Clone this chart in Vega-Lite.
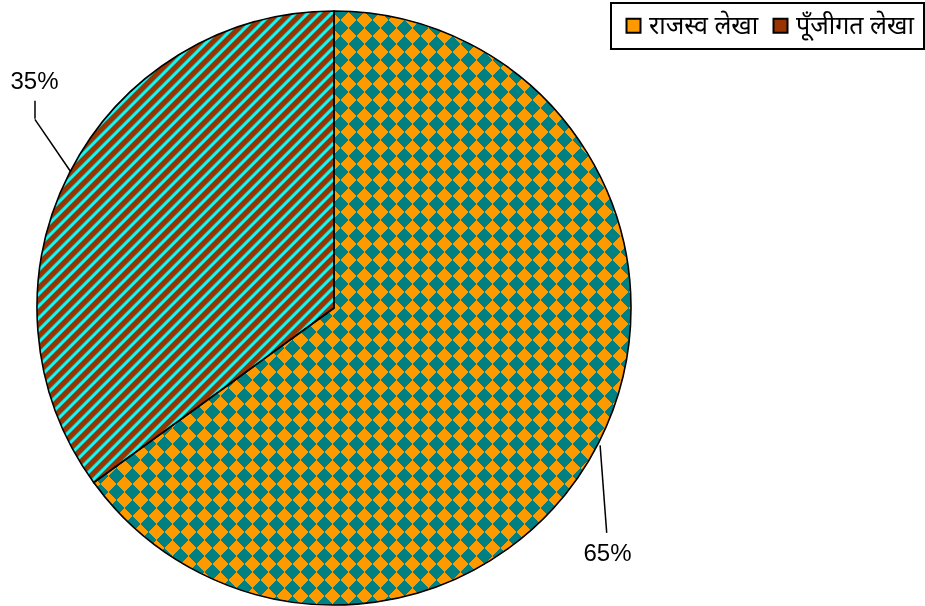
{
"$schema":"https://vega.github.io/schema/vega-lite/v6.json",
"width":668,"height":594,
"autosize":{"type":"none"},
"padding":{"left":0,"top":11,"right":257,"bottom":1},
"background":"white",
"config":{"view":{"stroke":null},"font":"Liberation Sans"},
"data":{"values":[
{"cat":"राजस्व लेखा","value":65,"label":"65%","ord":1},
{"cat":"पूँजीगत लेखा","value":35,"label":"35%","ord":2}
]},
"encoding":{
"theta":{"field":"value","type":"quantitative","stack":true},
"order":{"field":"ord","type":"quantitative"}
},
"layer":[
{"mark":{"type":"arc","outerRadius":297},
 "encoding":{"color":{"field":"cat","type":"nominal",
  "scale":{"domain":["राजस्व लेखा","पूँजीगत लेखा"],"range":["#ff9900","#993300"]},
  "legend":{"orient":"none","legendX":611,"legendY":-8,"direction":"horizontal","title":null,
   "strokeColor":"black","padding":10,"symbolType":"square","symbolSize":196,
   "symbolStrokeColor":"black","symbolStrokeWidth":2,"labelFontSize":25,"labelFont":"Noto Sans",
   "labelColor":"black","columnPadding":9,"labelOffset":3,
   "encode":{"legend":{"update":{"strokeWidth":{"value":2}}}}}}}},
{"mark":{"type":"arc","outerRadius":297},
 "encoding":{"fill":{"condition":{"test":"datum.ord==2","value":{"gradient":"linear","x1":0,"y1":0,"x2":0.7344,"y2":1.1661,"stops":[
{"offset":0,"color":"#930"},{"offset":0.0073,"color":"#930"},{"offset":0.0099,"color":"#0ff"},{"offset":0.0130,"color":"#0ff"},
{"offset":0.0156,"color":"#930"},{"offset":0.0229,"color":"#930"},{"offset":0.0255,"color":"#0ff"},{"offset":0.0286,"color":"#0ff"},
{"offset":0.0313,"color":"#930"},{"offset":0.0386,"color":"#930"},{"offset":0.0412,"color":"#0ff"},{"offset":0.0443,"color":"#0ff"},
{"offset":0.0469,"color":"#930"},{"offset":0.0542,"color":"#930"},{"offset":0.0568,"color":"#0ff"},{"offset":0.0599,"color":"#0ff"},
{"offset":0.0625,"color":"#930"},{"offset":0.0698,"color":"#930"},{"offset":0.0724,"color":"#0ff"},{"offset":0.0755,"color":"#0ff"},
{"offset":0.0781,"color":"#930"},{"offset":0.0854,"color":"#930"},{"offset":0.0880,"color":"#0ff"},{"offset":0.0911,"color":"#0ff"},
{"offset":0.0938,"color":"#930"},{"offset":0.1011,"color":"#930"},{"offset":0.1037,"color":"#0ff"},{"offset":0.1068,"color":"#0ff"},
{"offset":0.1094,"color":"#930"},{"offset":0.1167,"color":"#930"},{"offset":0.1193,"color":"#0ff"},{"offset":0.1224,"color":"#0ff"},
{"offset":0.1250,"color":"#930"},{"offset":0.1323,"color":"#930"},{"offset":0.1349,"color":"#0ff"},{"offset":0.1380,"color":"#0ff"},
{"offset":0.1406,"color":"#930"},{"offset":0.1479,"color":"#930"},{"offset":0.1505,"color":"#0ff"},{"offset":0.1536,"color":"#0ff"},
{"offset":0.1563,"color":"#930"},{"offset":0.1636,"color":"#930"},{"offset":0.1662,"color":"#0ff"},{"offset":0.1693,"color":"#0ff"},
{"offset":0.1719,"color":"#930"},{"offset":0.1792,"color":"#930"},{"offset":0.1818,"color":"#0ff"},{"offset":0.1849,"color":"#0ff"},
{"offset":0.1875,"color":"#930"},{"offset":0.1948,"color":"#930"},{"offset":0.1974,"color":"#0ff"},{"offset":0.2005,"color":"#0ff"},
{"offset":0.2031,"color":"#930"},{"offset":0.2104,"color":"#930"},{"offset":0.2130,"color":"#0ff"},{"offset":0.2161,"color":"#0ff"},
{"offset":0.2188,"color":"#930"},{"offset":0.2261,"color":"#930"},{"offset":0.2287,"color":"#0ff"},{"offset":0.2318,"color":"#0ff"},
{"offset":0.2344,"color":"#930"},{"offset":0.2417,"color":"#930"},{"offset":0.2443,"color":"#0ff"},{"offset":0.2474,"color":"#0ff"},
{"offset":0.2500,"color":"#930"},{"offset":0.2573,"color":"#930"},{"offset":0.2599,"color":"#0ff"},{"offset":0.2630,"color":"#0ff"},
{"offset":0.2656,"color":"#930"},{"offset":0.2729,"color":"#930"},{"offset":0.2755,"color":"#0ff"},{"offset":0.2786,"color":"#0ff"},
{"offset":0.2813,"color":"#930"},{"offset":0.2886,"color":"#930"},{"offset":0.2912,"color":"#0ff"},{"offset":0.2943,"color":"#0ff"},
{"offset":0.2969,"color":"#930"},{"offset":0.3042,"color":"#930"},{"offset":0.3068,"color":"#0ff"},{"offset":0.3099,"color":"#0ff"},
{"offset":0.3125,"color":"#930"},{"offset":0.3198,"color":"#930"},{"offset":0.3224,"color":"#0ff"},{"offset":0.3255,"color":"#0ff"},
{"offset":0.3281,"color":"#930"},{"offset":0.3354,"color":"#930"},{"offset":0.3380,"color":"#0ff"},{"offset":0.3411,"color":"#0ff"},
{"offset":0.3438,"color":"#930"},{"offset":0.3511,"color":"#930"},{"offset":0.3537,"color":"#0ff"},{"offset":0.3568,"color":"#0ff"},
{"offset":0.3594,"color":"#930"},{"offset":0.3667,"color":"#930"},{"offset":0.3693,"color":"#0ff"},{"offset":0.3724,"color":"#0ff"},
{"offset":0.3750,"color":"#930"},{"offset":0.3823,"color":"#930"},{"offset":0.3849,"color":"#0ff"},{"offset":0.3880,"color":"#0ff"},
{"offset":0.3906,"color":"#930"},{"offset":0.3979,"color":"#930"},{"offset":0.4005,"color":"#0ff"},{"offset":0.4036,"color":"#0ff"},
{"offset":0.4063,"color":"#930"},{"offset":0.4136,"color":"#930"},{"offset":0.4162,"color":"#0ff"},{"offset":0.4193,"color":"#0ff"},
{"offset":0.4219,"color":"#930"},{"offset":0.4292,"color":"#930"},{"offset":0.4318,"color":"#0ff"},{"offset":0.4349,"color":"#0ff"},
{"offset":0.4375,"color":"#930"},{"offset":0.4448,"color":"#930"},{"offset":0.4474,"color":"#0ff"},{"offset":0.4505,"color":"#0ff"},
{"offset":0.4531,"color":"#930"},{"offset":0.4604,"color":"#930"},{"offset":0.4630,"color":"#0ff"},{"offset":0.4661,"color":"#0ff"},
{"offset":0.4688,"color":"#930"},{"offset":0.4761,"color":"#930"},{"offset":0.4787,"color":"#0ff"},{"offset":0.4818,"color":"#0ff"},
{"offset":0.4844,"color":"#930"},{"offset":0.4917,"color":"#930"},{"offset":0.4943,"color":"#0ff"},{"offset":0.4974,"color":"#0ff"},
{"offset":0.5000,"color":"#930"},{"offset":0.5073,"color":"#930"},{"offset":0.5099,"color":"#0ff"},{"offset":0.5130,"color":"#0ff"},
{"offset":0.5156,"color":"#930"},{"offset":0.5229,"color":"#930"},{"offset":0.5255,"color":"#0ff"},{"offset":0.5286,"color":"#0ff"},
{"offset":0.5313,"color":"#930"},{"offset":0.5386,"color":"#930"},{"offset":0.5412,"color":"#0ff"},{"offset":0.5443,"color":"#0ff"},
{"offset":0.5469,"color":"#930"},{"offset":0.5542,"color":"#930"},{"offset":0.5568,"color":"#0ff"},{"offset":0.5599,"color":"#0ff"},
{"offset":0.5625,"color":"#930"},{"offset":0.5698,"color":"#930"},{"offset":0.5724,"color":"#0ff"},{"offset":0.5755,"color":"#0ff"},
{"offset":0.5781,"color":"#930"},{"offset":0.5854,"color":"#930"},{"offset":0.5880,"color":"#0ff"},{"offset":0.5911,"color":"#0ff"},
{"offset":0.5938,"color":"#930"},{"offset":0.6011,"color":"#930"},{"offset":0.6037,"color":"#0ff"},{"offset":0.6068,"color":"#0ff"},
{"offset":0.6094,"color":"#930"},{"offset":0.6167,"color":"#930"},{"offset":0.6193,"color":"#0ff"},{"offset":0.6224,"color":"#0ff"},
{"offset":0.6250,"color":"#930"},{"offset":0.6323,"color":"#930"},{"offset":0.6349,"color":"#0ff"},{"offset":0.6380,"color":"#0ff"},
{"offset":0.6406,"color":"#930"},{"offset":0.6479,"color":"#930"},{"offset":0.6505,"color":"#0ff"},{"offset":0.6536,"color":"#0ff"},
{"offset":0.6563,"color":"#930"},{"offset":0.6636,"color":"#930"},{"offset":0.6662,"color":"#0ff"},{"offset":0.6693,"color":"#0ff"},
{"offset":0.6719,"color":"#930"},{"offset":0.6792,"color":"#930"},{"offset":0.6818,"color":"#0ff"},{"offset":0.6849,"color":"#0ff"},
{"offset":0.6875,"color":"#930"},{"offset":0.6948,"color":"#930"},{"offset":0.6974,"color":"#0ff"},{"offset":0.7005,"color":"#0ff"},
{"offset":0.7031,"color":"#930"},{"offset":0.7104,"color":"#930"},{"offset":0.7130,"color":"#0ff"},{"offset":0.7161,"color":"#0ff"},
{"offset":0.7188,"color":"#930"},{"offset":0.7261,"color":"#930"},{"offset":0.7287,"color":"#0ff"},{"offset":0.7318,"color":"#0ff"},
{"offset":0.7344,"color":"#930"},{"offset":0.7417,"color":"#930"},{"offset":0.7443,"color":"#0ff"},{"offset":0.7474,"color":"#0ff"},
{"offset":0.7500,"color":"#930"},{"offset":0.7573,"color":"#930"},{"offset":0.7599,"color":"#0ff"},{"offset":0.7630,"color":"#0ff"},
{"offset":0.7656,"color":"#930"},{"offset":0.7729,"color":"#930"},{"offset":0.7755,"color":"#0ff"},{"offset":0.7786,"color":"#0ff"},
{"offset":0.7813,"color":"#930"},{"offset":0.7886,"color":"#930"},{"offset":0.7912,"color":"#0ff"},{"offset":0.7943,"color":"#0ff"},
{"offset":0.7969,"color":"#930"},{"offset":0.8042,"color":"#930"},{"offset":0.8068,"color":"#0ff"},{"offset":0.8099,"color":"#0ff"},
{"offset":0.8125,"color":"#930"},{"offset":0.8198,"color":"#930"},{"offset":0.8224,"color":"#0ff"},{"offset":0.8255,"color":"#0ff"},
{"offset":0.8281,"color":"#930"},{"offset":0.8354,"color":"#930"},{"offset":0.8380,"color":"#0ff"},{"offset":0.8411,"color":"#0ff"},
{"offset":0.8438,"color":"#930"},{"offset":0.8511,"color":"#930"},{"offset":0.8537,"color":"#0ff"},{"offset":0.8568,"color":"#0ff"},
{"offset":0.8594,"color":"#930"},{"offset":0.8667,"color":"#930"},{"offset":0.8693,"color":"#0ff"},{"offset":0.8724,"color":"#0ff"},
{"offset":0.8750,"color":"#930"},{"offset":0.8823,"color":"#930"},{"offset":0.8849,"color":"#0ff"},{"offset":0.8880,"color":"#0ff"},
{"offset":0.8906,"color":"#930"},{"offset":0.8979,"color":"#930"},{"offset":0.9005,"color":"#0ff"},{"offset":0.9036,"color":"#0ff"},
{"offset":0.9063,"color":"#930"},{"offset":0.9136,"color":"#930"},{"offset":0.9162,"color":"#0ff"},{"offset":0.9193,"color":"#0ff"},
{"offset":0.9219,"color":"#930"},{"offset":0.9292,"color":"#930"},{"offset":0.9318,"color":"#0ff"},{"offset":0.9349,"color":"#0ff"},
{"offset":0.9375,"color":"#930"},{"offset":0.9448,"color":"#930"},{"offset":0.9474,"color":"#0ff"},{"offset":0.9505,"color":"#0ff"},
{"offset":0.9531,"color":"#930"},{"offset":0.9604,"color":"#930"},{"offset":0.9630,"color":"#0ff"},{"offset":0.9661,"color":"#0ff"},
{"offset":0.9688,"color":"#930"},{"offset":0.9761,"color":"#930"},{"offset":0.9787,"color":"#0ff"},{"offset":0.9818,"color":"#0ff"},
{"offset":0.9844,"color":"#930"},{"offset":0.9917,"color":"#930"},{"offset":0.9943,"color":"#0ff"},{"offset":0.9974,"color":"#0ff"},
{"offset":1,"color":"#930"}]}},
 "value":{"gradient":"linear","x1":0,"y1":0,"x2":0.9648,"y2":1.0667,"stops":[
{"offset":0,"color":"#ff1980"},{"offset":0.0139,"color":"#ff1980"},{"offset":0.0139,"color":"#000"},{"offset":0.0278,"color":"#000"},
{"offset":0.0278,"color":"#ff1980"},{"offset":0.0417,"color":"#ff1980"},{"offset":0.0417,"color":"#000"},{"offset":0.0556,"color":"#000"},
{"offset":0.0556,"color":"#ff1980"},{"offset":0.0694,"color":"#ff1980"},{"offset":0.0694,"color":"#000"},{"offset":0.0833,"color":"#000"},
{"offset":0.0833,"color":"#ff1980"},{"offset":0.0972,"color":"#ff1980"},{"offset":0.0972,"color":"#000"},{"offset":0.1111,"color":"#000"},
{"offset":0.1111,"color":"#ff1980"},{"offset":0.125,"color":"#ff1980"},{"offset":0.125,"color":"#000"},{"offset":0.1389,"color":"#000"},
{"offset":0.1389,"color":"#ff1980"},{"offset":0.1528,"color":"#ff1980"},{"offset":0.1528,"color":"#000"},{"offset":0.1667,"color":"#000"},
{"offset":0.1667,"color":"#ff1980"},{"offset":0.1806,"color":"#ff1980"},{"offset":0.1806,"color":"#000"},{"offset":0.1944,"color":"#000"},
{"offset":0.1944,"color":"#ff1980"},{"offset":0.2083,"color":"#ff1980"},{"offset":0.2083,"color":"#000"},{"offset":0.2222,"color":"#000"},
{"offset":0.2222,"color":"#ff1980"},{"offset":0.2361,"color":"#ff1980"},{"offset":0.2361,"color":"#000"},{"offset":0.25,"color":"#000"},
{"offset":0.25,"color":"#ff1980"},{"offset":0.2639,"color":"#ff1980"},{"offset":0.2639,"color":"#000"},{"offset":0.2778,"color":"#000"},
{"offset":0.2778,"color":"#ff1980"},{"offset":0.2917,"color":"#ff1980"},{"offset":0.2917,"color":"#000"},{"offset":0.3056,"color":"#000"},
{"offset":0.3056,"color":"#ff1980"},{"offset":0.3194,"color":"#ff1980"},{"offset":0.3194,"color":"#000"},{"offset":0.3333,"color":"#000"},
{"offset":0.3333,"color":"#ff1980"},{"offset":0.3472,"color":"#ff1980"},{"offset":0.3472,"color":"#000"},{"offset":0.3611,"color":"#000"},
{"offset":0.3611,"color":"#ff1980"},{"offset":0.375,"color":"#ff1980"},{"offset":0.375,"color":"#000"},{"offset":0.3889,"color":"#000"},
{"offset":0.3889,"color":"#ff1980"},{"offset":0.4028,"color":"#ff1980"},{"offset":0.4028,"color":"#000"},{"offset":0.4167,"color":"#000"},
{"offset":0.4167,"color":"#ff1980"},{"offset":0.4306,"color":"#ff1980"},{"offset":0.4306,"color":"#000"},{"offset":0.4444,"color":"#000"},
{"offset":0.4444,"color":"#ff1980"},{"offset":0.4583,"color":"#ff1980"},{"offset":0.4583,"color":"#000"},{"offset":0.4722,"color":"#000"},
{"offset":0.4722,"color":"#ff1980"},{"offset":0.4861,"color":"#ff1980"},{"offset":0.4861,"color":"#000"},{"offset":0.5,"color":"#000"},
{"offset":0.5,"color":"#ff1980"},{"offset":0.5139,"color":"#ff1980"},{"offset":0.5139,"color":"#000"},{"offset":0.5278,"color":"#000"},
{"offset":0.5278,"color":"#ff1980"},{"offset":0.5417,"color":"#ff1980"},{"offset":0.5417,"color":"#000"},{"offset":0.5556,"color":"#000"},
{"offset":0.5556,"color":"#ff1980"},{"offset":0.5694,"color":"#ff1980"},{"offset":0.5694,"color":"#000"},{"offset":0.5833,"color":"#000"},
{"offset":0.5833,"color":"#ff1980"},{"offset":0.5972,"color":"#ff1980"},{"offset":0.5972,"color":"#000"},{"offset":0.6111,"color":"#000"},
{"offset":0.6111,"color":"#ff1980"},{"offset":0.625,"color":"#ff1980"},{"offset":0.625,"color":"#000"},{"offset":0.6389,"color":"#000"},
{"offset":0.6389,"color":"#ff1980"},{"offset":0.6528,"color":"#ff1980"},{"offset":0.6528,"color":"#000"},{"offset":0.6667,"color":"#000"},
{"offset":0.6667,"color":"#ff1980"},{"offset":0.6806,"color":"#ff1980"},{"offset":0.6806,"color":"#000"},{"offset":0.6944,"color":"#000"},
{"offset":0.6944,"color":"#ff1980"},{"offset":0.7083,"color":"#ff1980"},{"offset":0.7083,"color":"#000"},{"offset":0.7222,"color":"#000"},
{"offset":0.7222,"color":"#ff1980"},{"offset":0.7361,"color":"#ff1980"},{"offset":0.7361,"color":"#000"},{"offset":0.75,"color":"#000"},
{"offset":0.75,"color":"#ff1980"},{"offset":0.7639,"color":"#ff1980"},{"offset":0.7639,"color":"#000"},{"offset":0.7778,"color":"#000"},
{"offset":0.7778,"color":"#ff1980"},{"offset":0.7917,"color":"#ff1980"},{"offset":0.7917,"color":"#000"},{"offset":0.8056,"color":"#000"},
{"offset":0.8056,"color":"#ff1980"},{"offset":0.8194,"color":"#ff1980"},{"offset":0.8194,"color":"#000"},{"offset":0.8333,"color":"#000"},
{"offset":0.8333,"color":"#ff1980"},{"offset":0.8472,"color":"#ff1980"},{"offset":0.8472,"color":"#000"},{"offset":0.8611,"color":"#000"},
{"offset":0.8611,"color":"#ff1980"},{"offset":0.875,"color":"#ff1980"},{"offset":0.875,"color":"#000"},{"offset":0.8889,"color":"#000"},
{"offset":0.8889,"color":"#ff1980"},{"offset":0.9028,"color":"#ff1980"},{"offset":0.9028,"color":"#000"},{"offset":0.9167,"color":"#000"},
{"offset":0.9167,"color":"#ff1980"},{"offset":0.9306,"color":"#ff1980"},{"offset":0.9306,"color":"#000"},{"offset":0.9444,"color":"#000"},
{"offset":0.9444,"color":"#ff1980"},{"offset":0.9583,"color":"#ff1980"},{"offset":0.9583,"color":"#000"},{"offset":0.9722,"color":"#000"},
{"offset":0.9722,"color":"#ff1980"},{"offset":0.9861,"color":"#ff1980"},{"offset":0.9861,"color":"#000"},{"offset":1,"color":"#000"}]}}}},
{"mark":{"type":"arc","outerRadius":297,"blend":"difference"},
 "encoding":{"fill":{"condition":{"test":"datum.ord==1","value":{"gradient":"linear","x1":0,"y1":1,"x2":0.9648,"y2":-0.0667,"stops":[
{"offset":0,"color":"#ff1980"},{"offset":0.0139,"color":"#ff1980"},{"offset":0.0139,"color":"#000"},{"offset":0.0278,"color":"#000"},
{"offset":0.0278,"color":"#ff1980"},{"offset":0.0417,"color":"#ff1980"},{"offset":0.0417,"color":"#000"},{"offset":0.0556,"color":"#000"},
{"offset":0.0556,"color":"#ff1980"},{"offset":0.0694,"color":"#ff1980"},{"offset":0.0694,"color":"#000"},{"offset":0.0833,"color":"#000"},
{"offset":0.0833,"color":"#ff1980"},{"offset":0.0972,"color":"#ff1980"},{"offset":0.0972,"color":"#000"},{"offset":0.1111,"color":"#000"},
{"offset":0.1111,"color":"#ff1980"},{"offset":0.125,"color":"#ff1980"},{"offset":0.125,"color":"#000"},{"offset":0.1389,"color":"#000"},
{"offset":0.1389,"color":"#ff1980"},{"offset":0.1528,"color":"#ff1980"},{"offset":0.1528,"color":"#000"},{"offset":0.1667,"color":"#000"},
{"offset":0.1667,"color":"#ff1980"},{"offset":0.1806,"color":"#ff1980"},{"offset":0.1806,"color":"#000"},{"offset":0.1944,"color":"#000"},
{"offset":0.1944,"color":"#ff1980"},{"offset":0.2083,"color":"#ff1980"},{"offset":0.2083,"color":"#000"},{"offset":0.2222,"color":"#000"},
{"offset":0.2222,"color":"#ff1980"},{"offset":0.2361,"color":"#ff1980"},{"offset":0.2361,"color":"#000"},{"offset":0.25,"color":"#000"},
{"offset":0.25,"color":"#ff1980"},{"offset":0.2639,"color":"#ff1980"},{"offset":0.2639,"color":"#000"},{"offset":0.2778,"color":"#000"},
{"offset":0.2778,"color":"#ff1980"},{"offset":0.2917,"color":"#ff1980"},{"offset":0.2917,"color":"#000"},{"offset":0.3056,"color":"#000"},
{"offset":0.3056,"color":"#ff1980"},{"offset":0.3194,"color":"#ff1980"},{"offset":0.3194,"color":"#000"},{"offset":0.3333,"color":"#000"},
{"offset":0.3333,"color":"#ff1980"},{"offset":0.3472,"color":"#ff1980"},{"offset":0.3472,"color":"#000"},{"offset":0.3611,"color":"#000"},
{"offset":0.3611,"color":"#ff1980"},{"offset":0.375,"color":"#ff1980"},{"offset":0.375,"color":"#000"},{"offset":0.3889,"color":"#000"},
{"offset":0.3889,"color":"#ff1980"},{"offset":0.4028,"color":"#ff1980"},{"offset":0.4028,"color":"#000"},{"offset":0.4167,"color":"#000"},
{"offset":0.4167,"color":"#ff1980"},{"offset":0.4306,"color":"#ff1980"},{"offset":0.4306,"color":"#000"},{"offset":0.4444,"color":"#000"},
{"offset":0.4444,"color":"#ff1980"},{"offset":0.4583,"color":"#ff1980"},{"offset":0.4583,"color":"#000"},{"offset":0.4722,"color":"#000"},
{"offset":0.4722,"color":"#ff1980"},{"offset":0.4861,"color":"#ff1980"},{"offset":0.4861,"color":"#000"},{"offset":0.5,"color":"#000"},
{"offset":0.5,"color":"#ff1980"},{"offset":0.5139,"color":"#ff1980"},{"offset":0.5139,"color":"#000"},{"offset":0.5278,"color":"#000"},
{"offset":0.5278,"color":"#ff1980"},{"offset":0.5417,"color":"#ff1980"},{"offset":0.5417,"color":"#000"},{"offset":0.5556,"color":"#000"},
{"offset":0.5556,"color":"#ff1980"},{"offset":0.5694,"color":"#ff1980"},{"offset":0.5694,"color":"#000"},{"offset":0.5833,"color":"#000"},
{"offset":0.5833,"color":"#ff1980"},{"offset":0.5972,"color":"#ff1980"},{"offset":0.5972,"color":"#000"},{"offset":0.6111,"color":"#000"},
{"offset":0.6111,"color":"#ff1980"},{"offset":0.625,"color":"#ff1980"},{"offset":0.625,"color":"#000"},{"offset":0.6389,"color":"#000"},
{"offset":0.6389,"color":"#ff1980"},{"offset":0.6528,"color":"#ff1980"},{"offset":0.6528,"color":"#000"},{"offset":0.6667,"color":"#000"},
{"offset":0.6667,"color":"#ff1980"},{"offset":0.6806,"color":"#ff1980"},{"offset":0.6806,"color":"#000"},{"offset":0.6944,"color":"#000"},
{"offset":0.6944,"color":"#ff1980"},{"offset":0.7083,"color":"#ff1980"},{"offset":0.7083,"color":"#000"},{"offset":0.7222,"color":"#000"},
{"offset":0.7222,"color":"#ff1980"},{"offset":0.7361,"color":"#ff1980"},{"offset":0.7361,"color":"#000"},{"offset":0.75,"color":"#000"},
{"offset":0.75,"color":"#ff1980"},{"offset":0.7639,"color":"#ff1980"},{"offset":0.7639,"color":"#000"},{"offset":0.7778,"color":"#000"},
{"offset":0.7778,"color":"#ff1980"},{"offset":0.7917,"color":"#ff1980"},{"offset":0.7917,"color":"#000"},{"offset":0.8056,"color":"#000"},
{"offset":0.8056,"color":"#ff1980"},{"offset":0.8194,"color":"#ff1980"},{"offset":0.8194,"color":"#000"},{"offset":0.8333,"color":"#000"},
{"offset":0.8333,"color":"#ff1980"},{"offset":0.8472,"color":"#ff1980"},{"offset":0.8472,"color":"#000"},{"offset":0.8611,"color":"#000"},
{"offset":0.8611,"color":"#ff1980"},{"offset":0.875,"color":"#ff1980"},{"offset":0.875,"color":"#000"},{"offset":0.8889,"color":"#000"},
{"offset":0.8889,"color":"#ff1980"},{"offset":0.9028,"color":"#ff1980"},{"offset":0.9028,"color":"#000"},{"offset":0.9167,"color":"#000"},
{"offset":0.9167,"color":"#ff1980"},{"offset":0.9306,"color":"#ff1980"},{"offset":0.9306,"color":"#000"},{"offset":0.9444,"color":"#000"},
{"offset":0.9444,"color":"#ff1980"},{"offset":0.9583,"color":"#ff1980"},{"offset":0.9583,"color":"#000"},{"offset":0.9722,"color":"#000"},
{"offset":0.9722,"color":"#ff1980"},{"offset":0.9861,"color":"#ff1980"},{"offset":0.9861,"color":"#000"},{"offset":1,"color":"#000"}]}},
 "value":"#000"}}},
{"mark":{"type":"arc","outerRadius":297,"blend":"difference"},
 "encoding":{"fill":{"condition":{"test":"datum.ord==1","value":"#ff9900"},"value":"#000"}}},
{"mark":{"type":"arc","outerRadius":297,"fillOpacity":0,"stroke":"#000","strokeWidth":1.6}},
{"mark":{"type":"arc","innerRadius":296.1,"outerRadius":353.6,"thetaOffset":-0.5995,"padAngle":0.6191,"fillOpacity":0,"stroke":"#000","strokeWidth":1.5,"strokeDash":[0,911,1000]},
 "encoding":{"strokeOpacity":{"condition":{"test":"datum.ord==2","value":1},"value":0}}},
{"mark":{"type":"arc","innerRadius":353.6,"outerRadius":363.8,"thetaOffset":0,"padAngle":1.2606,"fillOpacity":0,"stroke":"#000","strokeWidth":1.5,"strokeDash":[0,182,1000]},
 "encoding":{"strokeOpacity":{"condition":{"test":"datum.ord==2","value":1},"value":0}}},
{"mark":{"type":"arc","innerRadius":298.75,"outerRadius":353.5,"thetaOffset":-1.0177,"padAngle":1.1672,"fillOpacity":0,"stroke":"#000","strokeWidth":1.5,"strokeDash":[0,1573,1000]},
 "encoding":{"strokeOpacity":{"condition":{"test":"datum.ord==1","value":1},"value":0}}},
{"mark":{"type":"text","radius":375,"thetaOffset":0.1745,"fontSize":24,"font":"Liberation Sans","color":"#000"},
 "encoding":{"text":{"field":"label"},"opacity":{"condition":{"test":"datum.ord==2","value":1},"value":0}}},
{"mark":{"type":"text","radius":368,"thetaOffset":0.2618,"fontSize":24,"font":"Liberation Sans","color":"#000"},
 "encoding":{"text":{"field":"label"},"opacity":{"condition":{"test":"datum.ord==1","value":1},"value":0}}}
]
}
